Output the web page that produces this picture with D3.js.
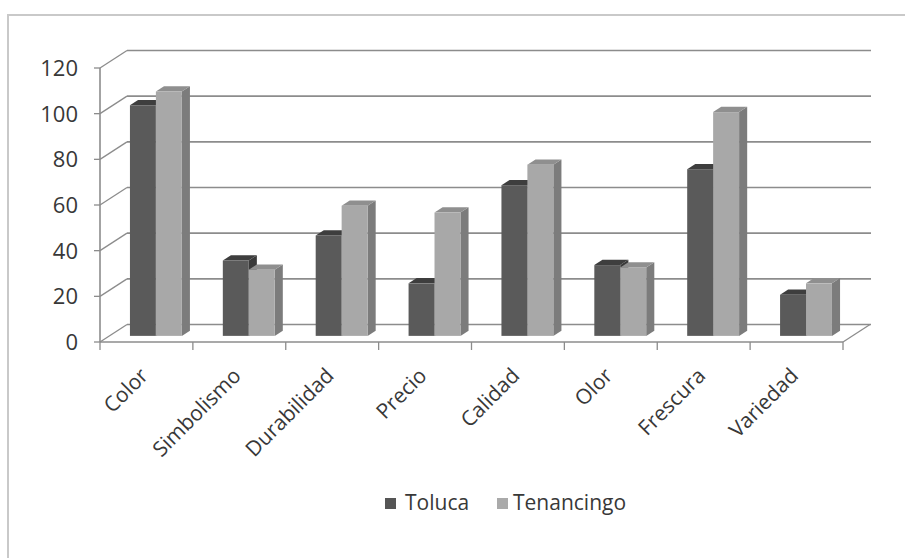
<!DOCTYPE html>
<html><head><meta charset="utf-8">
<script src="https://cdn.jsdelivr.net/npm/d3@7/dist/d3.min.js"></script>
<style>body{margin:0;background:#fff;}svg{display:block;font-family:"Open Sans",Lato,sans-serif;}</style>
</head><body>
<script>
const categories = ["Color","Simbolismo","Durabilidad","Precio","Calidad","Olor","Frescura","Variedad"];
const seriesNames = ["Toluca","Tenancingo"];
const toluca = [101, 33, 44, 23, 66, 31, 73, 18];
const tenancingo = [107, 29, 57, 54, 75, 30, 98, 23];
const yTicks = [0,20,40,60,80,100,120];

const W = 905, H = 558;
const svg = d3.select("body").append("svg").attr("width", W).attr("height", H);

// chart border
svg.append("rect").attr("x", 8).attr("y", 15).attr("width", 920).attr("height", 600)
  .attr("fill", "#fff").attr("stroke", "#c9c9c9").attr("stroke-width", 2);

const y = d3.scaleLinear().domain([0,120]).range([342, 68]);
const x0 = d3.scaleBand().domain(categories).range([100, 843]);
const x1 = d3.scaleBand().domain(seriesNames).range([0, x0.bandwidth()]).paddingOuter(0.79);
const DX = 27, DY = -17.5;   // full depth offset
const f0 = 0.35, f1 = 0.65;  // bar depth range

const gridColor = "#8c8c8c";
const textColor = "#383838";
const g = svg.append("g");

// back wall gridlines + left wall diagonals
yTicks.forEach(v => {
  const yf = y(v);
  g.append("line").attr("x1", 100 + DX).attr("x2", 843 + DX + 1).attr("y1", yf + DY).attr("y2", yf + DY)
    .attr("stroke", gridColor).attr("stroke-width", 1.6);
  g.append("line").attr("x1", 100).attr("y1", yf).attr("x2", 100 + DX).attr("y2", yf + DY)
    .attr("stroke", gridColor).attr("stroke-width", 1.3);
});
// floor right edge
g.append("line").attr("x1", 843).attr("y1", y(0)).attr("x2", 843 + DX).attr("y2", y(0) + DY)
  .attr("stroke", gridColor).attr("stroke-width", 1.3);

// bars
const colors = {
  Toluca: {front: "#5a5a5a", top: "#3e3e3e", side: "#3a3a3a"},
  Tenancingo: {front: "#a8a8a8", top: "#8f8f8f", side: "#7c7c7c"}
};
const data = categories.map((c, i) => ({cat: c, vals: [toluca[i], tenancingo[i]]}));
const bw = x1.bandwidth();
data.forEach(d => {
  seriesNames.forEach((s, j) => {
    const v = d.vals[j];
    const xl = x0(d.cat) + x1(s) + f0 * DX;
    const xr = xl + bw;
    const yb = y(0) + f0 * DY;
    const yt = y(v) + f0 * DY;
    const ddx = (f1 - f0) * DX, ddy = (f1 - f0) * DY;
    const c = colors[s];
    g.append("path").attr("d", `M${xr},${yt}L${xr+ddx},${yt+ddy}L${xr+ddx},${yb+ddy}L${xr},${yb}Z`).attr("fill", c.side);
    g.append("path").attr("d", `M${xl},${yt}L${xl+ddx},${yt+ddy}L${xr+ddx},${yt+ddy}L${xr},${yt}Z`).attr("fill", c.top);
    g.append("rect").attr("x", xl).attr("y", yt).attr("width", bw).attr("height", yb - yt).attr("fill", c.front);
  });
});

// front axes
g.append("line").attr("x1", 100).attr("x2", 100).attr("y1", y(120)).attr("y2", y(0))
  .attr("stroke", gridColor).attr("stroke-width", 1.6);
g.append("line").attr("x1", 100).attr("x2", 843).attr("y1", y(0)).attr("y2", y(0))
  .attr("stroke", gridColor).attr("stroke-width", 1.6);
// y ticks
yTicks.forEach(v => {
  g.append("line").attr("x1", 94).attr("x2", 100).attr("y1", y(v)).attr("y2", y(v)).attr("stroke", gridColor).attr("stroke-width", 1.3);
  g.append("text").attr("x", 78).attr("y", y(v)).attr("dy", "0.36em").attr("text-anchor", "end")
    .attr("font-size", 22).attr("fill", textColor).text(v);
});
// x ticks
const xEdges = categories.map(c => x0(c)).concat([843]);
xEdges.forEach(xe => {
  g.append("line").attr("x1", xe).attr("x2", xe).attr("y1", y(0)).attr("y2", y(0) + 8).attr("stroke", gridColor).attr("stroke-width", 1.3);
});
// category labels
categories.forEach(c => {
  const cx = x0(c) + x0.bandwidth() / 2 + 3;
  g.append("text").attr("transform", `translate(${cx},${377}) rotate(-45)`)
    .attr("text-anchor", "end").attr("font-size", 21).attr("fill", textColor).text(c);
});

// legend
const legend = svg.append("g");
const legItems = [{name: "Toluca", x: 385, tx: 405, color: "#555555"}, {name: "Tenancingo", x: 497, tx: 513, color: "#aaaaaa"}];
legItems.forEach(it => {
  legend.append("rect").attr("x", it.x).attr("y", 498).attr("width", 11).attr("height", 11).attr("fill", it.color);
  legend.append("text").attr("x", it.tx).attr("y", 510).attr("font-size", 21).attr("fill", textColor).text(it.name);
});
</script>
</body></html>
